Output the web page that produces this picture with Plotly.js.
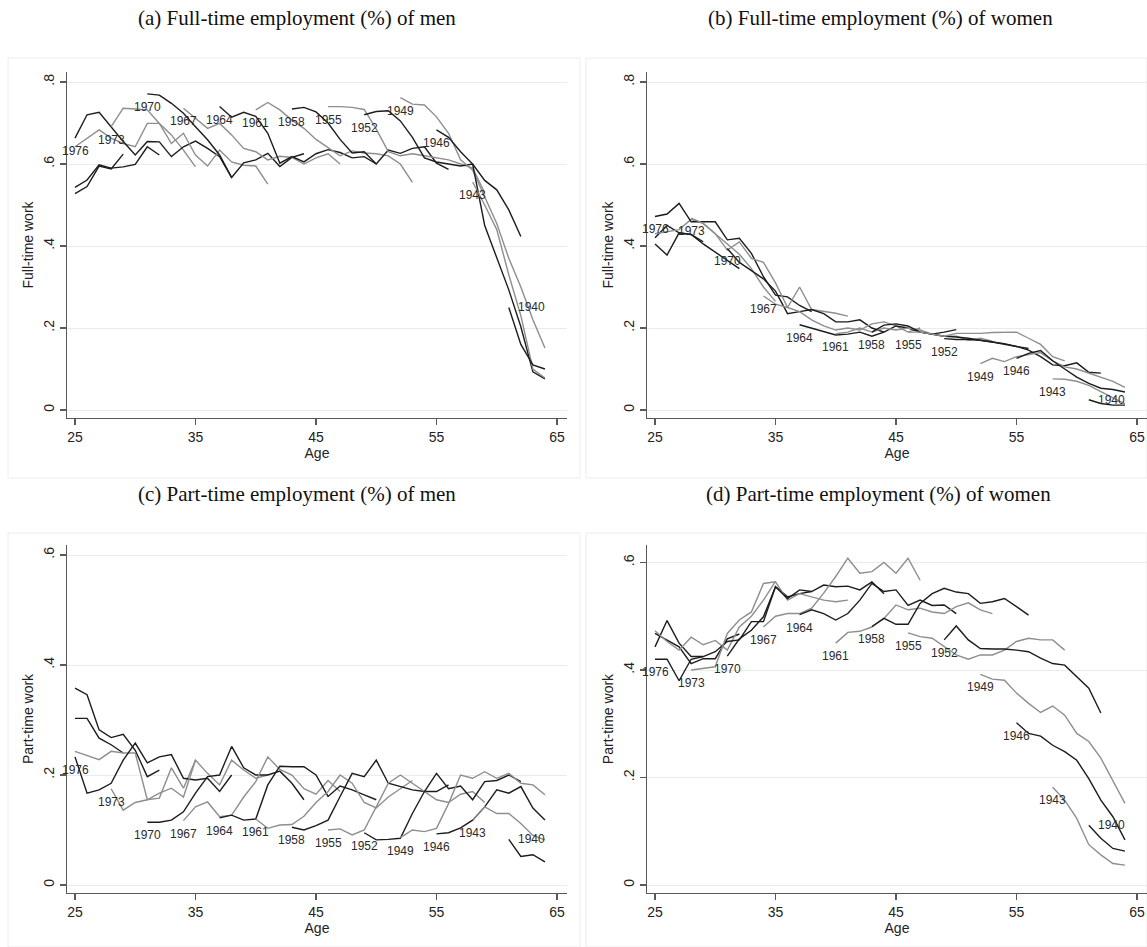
<!DOCTYPE html>
<html>
<head>
<meta charset="utf-8">
<script src="https://cdn.plot.ly/plotly-3.0.1.min.js"></script>
<style>
html,body{margin:0;padding:0;background:#fff;}
#chart{width:1147px;height:947px;}
</style>
</head>
<body>
<div id="chart"></div>
<script>
// ---------------- DATA ----------------
// Birth cohorts (3-year groups); first observed age of each cohort
const cohorts   = [1985, 1982, 1979, 1976, 1973, 1970, 1967, 1964, 1961, 1958, 1955, 1952, 1949, 1946, 1943, 1940];
const startAges = [25, 25, 25, 25, 28, 31, 34, 37, 40, 43, 46, 49, 52, 55, 58, 61];
const lineShade = ['black','black','gray','black','gray','black','gray','black','gray','black','gray','black','gray','black','gray','black'];
const labelled  = [false, false, false, true, true, true, true, true, true, true, true, true, true, true, true, true];

const xTickVals = [25, 35, 45, 55, 65];
const xTickText = ['25', '35', '45', '55', '65'];
const yTickValsTop = [0, 0.2, 0.4, 0.6, 0.8];
const yTickTextTop = ['0', '.2', '.4', '.6', '.8'];
const yTickValsBot = [0, 0.2, 0.4, 0.6];
const yTickTextBot = ['0', '.2', '.4', '.6'];

// (a) Full-time employment of men
const ftMen = [
  [0.528, 0.545, 0.595, 0.588, 0.624],
  [0.543, 0.561, 0.598, 0.590, 0.593, 0.599, 0.642, 0.622],
  [0.642, 0.663, 0.683, 0.663, 0.650, 0.642, 0.699, 0.699, 0.671, 0.634, 0.593],
  [0.663, 0.720, 0.726, 0.690, 0.655, 0.622, 0.655, 0.654, 0.618, 0.642, 0.656, 0.638, 0.618, 0.567],
  [0.691, 0.736, 0.734, 0.732, 0.699, 0.650, 0.675, 0.622, 0.595, 0.634, 0.605, 0.597, 0.595, 0.551],
  [0.771, 0.768, 0.748, 0.724, 0.691, 0.659, 0.622, 0.567, 0.603, 0.610, 0.626, 0.594, 0.616, 0.625],
  [0.736, 0.711, 0.687, 0.699, 0.671, 0.638, 0.630, 0.610, 0.619, 0.616, 0.600, 0.615, 0.625, 0.600],
  [0.740, 0.714, 0.726, 0.716, 0.675, 0.602, 0.618, 0.605, 0.625, 0.635, 0.628, 0.615, 0.618, 0.600],
  [0.732, 0.750, 0.732, 0.707, 0.687, 0.660, 0.640, 0.620, 0.632, 0.627, 0.625, 0.620, 0.600, 0.555],
  [0.734, 0.738, 0.727, 0.700, 0.660, 0.627, 0.630, 0.600, 0.634, 0.626, 0.638, 0.642, 0.602, 0.587],
  [0.740, 0.740, 0.738, 0.733, 0.685, 0.630, 0.620, 0.625, 0.620, 0.615, 0.610, 0.600, 0.590, 0.530],
  [0.720, 0.728, 0.730, 0.705, 0.665, 0.615, 0.605, 0.600, 0.595, 0.600, 0.560, 0.537, 0.488, 0.423],
  [0.762, 0.746, 0.744, 0.715, 0.675, 0.610, 0.585, 0.520, 0.455, 0.370, 0.300, 0.220, 0.151],
  [0.683, 0.665, 0.630, 0.600, 0.450, 0.374, 0.293, 0.203, 0.093, 0.076],
  [0.556, 0.500, 0.440, 0.330, 0.230, 0.100, 0.078],
  [0.250, 0.160, 0.110, 0.100]
];

// (b) Full-time employment of women
const ftWomen = [
  [0.405, 0.378, 0.432, 0.428, 0.410],
  [0.420, 0.450, 0.432, 0.428, 0.405, 0.385, 0.365, 0.345],
  [0.430, 0.435, 0.440, 0.465, 0.455, 0.430, 0.405, 0.380, 0.345, 0.300, 0.265],
  [0.472, 0.478, 0.504, 0.459, 0.459, 0.459, 0.415, 0.419, 0.382, 0.325, 0.280, 0.276, 0.255, 0.240],
  [0.468, 0.455, 0.430, 0.390, 0.410, 0.370, 0.360, 0.310, 0.250, 0.300, 0.245, 0.240, 0.236, 0.229],
  [0.394, 0.360, 0.340, 0.320, 0.290, 0.235, 0.240, 0.245, 0.235, 0.215, 0.215, 0.220, 0.200, 0.190],
  [0.278, 0.258, 0.250, 0.240, 0.220, 0.205, 0.195, 0.200, 0.195, 0.210, 0.215, 0.205, 0.190, 0.200],
  [0.208, 0.200, 0.192, 0.183, 0.185, 0.190, 0.180, 0.190, 0.205, 0.200, 0.190, 0.185, 0.190, 0.196],
  [0.186, 0.190, 0.200, 0.190, 0.200, 0.195, 0.200, 0.195, 0.185, 0.180, 0.180, 0.170, 0.175, 0.168],
  [0.190, 0.207, 0.210, 0.205, 0.190, 0.185, 0.180, 0.178, 0.175, 0.170, 0.166, 0.160, 0.155, 0.150],
  [0.190, 0.190, 0.185, 0.180, 0.187, 0.187, 0.187, 0.189, 0.190, 0.190, 0.175, 0.160, 0.130, 0.120],
  [0.174, 0.172, 0.172, 0.170, 0.166, 0.162, 0.155, 0.146, 0.130, 0.110, 0.108, 0.115, 0.092, 0.090],
  [0.113, 0.126, 0.118, 0.130, 0.135, 0.140, 0.120, 0.105, 0.100, 0.090, 0.080, 0.070, 0.055],
  [0.126, 0.138, 0.145, 0.120, 0.100, 0.080, 0.065, 0.053, 0.050, 0.044],
  [0.076, 0.075, 0.070, 0.060, 0.045, 0.030, 0.015],
  [0.025, 0.016, 0.012, 0.012]
];

// (c) Part-time employment of men
const ptMen = [
  [0.303, 0.303, 0.267, 0.255, 0.240],
  [0.358, 0.346, 0.282, 0.268, 0.274, 0.245, 0.197, 0.209],
  [0.243, 0.235, 0.228, 0.243, 0.240, 0.240, 0.155, 0.158, 0.213, 0.176, 0.227],
  [0.233, 0.167, 0.173, 0.185, 0.227, 0.258, 0.222, 0.233, 0.237, 0.194, 0.191, 0.194, 0.170, 0.200],
  [0.175, 0.136, 0.150, 0.155, 0.167, 0.176, 0.160, 0.227, 0.203, 0.182, 0.227, 0.209, 0.194, 0.200],
  [0.114, 0.114, 0.118, 0.133, 0.167, 0.197, 0.200, 0.252, 0.213, 0.200, 0.200, 0.207, 0.185, 0.155],
  [0.117, 0.142, 0.151, 0.124, 0.127, 0.160, 0.188, 0.233, 0.210, 0.200, 0.175, 0.165, 0.190, 0.170],
  [0.122, 0.127, 0.118, 0.120, 0.182, 0.216, 0.215, 0.215, 0.200, 0.161, 0.180, 0.173, 0.164, 0.155],
  [0.120, 0.103, 0.109, 0.110, 0.125, 0.150, 0.170, 0.200, 0.185, 0.150, 0.140, 0.160, 0.175, 0.190],
  [0.105, 0.100, 0.108, 0.118, 0.161, 0.203, 0.197, 0.227, 0.185, 0.179, 0.173, 0.170, 0.170, 0.182],
  [0.100, 0.102, 0.091, 0.100, 0.142, 0.185, 0.200, 0.185, 0.170, 0.155, 0.150, 0.165, 0.170, 0.150],
  [0.095, 0.082, 0.083, 0.085, 0.130, 0.170, 0.203, 0.175, 0.180, 0.155, 0.188, 0.190, 0.200, 0.188],
  [0.086, 0.100, 0.097, 0.103, 0.148, 0.200, 0.194, 0.206, 0.194, 0.203, 0.185, 0.182, 0.164],
  [0.093, 0.095, 0.104, 0.118, 0.142, 0.173, 0.167, 0.179, 0.140, 0.118],
  [0.118, 0.142, 0.130, 0.130, 0.112, 0.090, 0.082],
  [0.083, 0.052, 0.055, 0.042]
];

// (d) Part-time employment of women
const ptWomen = [
  [0.443, 0.492, 0.450, 0.425, 0.425],
  [0.468, 0.456, 0.443, 0.412, 0.421, 0.421, 0.458, 0.467],
  [0.473, 0.453, 0.437, 0.461, 0.447, 0.455, 0.437, 0.480, 0.500, 0.530, 0.565],
  [0.420, 0.420, 0.380, 0.420, 0.425, 0.434, 0.453, 0.456, 0.490, 0.490, 0.555, 0.536, 0.542, 0.546],
  [0.400, 0.403, 0.406, 0.468, 0.493, 0.508, 0.561, 0.564, 0.530, 0.542, 0.536, 0.530, 0.527, 0.530],
  [0.426, 0.458, 0.474, 0.499, 0.555, 0.533, 0.549, 0.546, 0.558, 0.555, 0.556, 0.549, 0.564, 0.542],
  [0.480, 0.500, 0.505, 0.505, 0.515, 0.543, 0.574, 0.608, 0.580, 0.583, 0.600, 0.580, 0.608, 0.567],
  [0.503, 0.512, 0.505, 0.493, 0.505, 0.530, 0.561, 0.546, 0.549, 0.520, 0.530, 0.520, 0.521, 0.505],
  [0.450, 0.470, 0.472, 0.480, 0.496, 0.521, 0.512, 0.515, 0.508, 0.505, 0.518, 0.525, 0.512, 0.505],
  [0.481, 0.496, 0.485, 0.485, 0.524, 0.542, 0.552, 0.545, 0.542, 0.524, 0.527, 0.533, 0.518, 0.502],
  [0.469, 0.462, 0.459, 0.443, 0.428, 0.420, 0.428, 0.428, 0.437, 0.453, 0.459, 0.456, 0.456, 0.437],
  [0.456, 0.482, 0.456, 0.440, 0.439, 0.439, 0.437, 0.434, 0.422, 0.412, 0.409, 0.387, 0.366, 0.320],
  [0.392, 0.383, 0.381, 0.357, 0.338, 0.321, 0.333, 0.316, 0.282, 0.267, 0.236, 0.195, 0.152],
  [0.302, 0.282, 0.277, 0.260, 0.248, 0.232, 0.198, 0.158, 0.127, 0.084],
  [0.182, 0.158, 0.124, 0.075, 0.056, 0.040, 0.037],
  [0.111, 0.087, 0.068, 0.063]
];

const panelTitles = [
  '(a) Full-time employment (%) of men',
  '(b) Full-time employment (%) of women',
  '(c) Part-time employment (%) of men',
  '(d) Part-time employment (%) of women'
];
const yTitles = ['Full-time work', 'Full-time work', 'Part-time work', 'Part-time work'];
const xTitle = 'Age';

// ---------------- LAYOUT / STYLE ----------------
const W = 1147, H = 947;
const fx = p => p / W;
const fy = p => 1 - p / H;
const COLORS = {black: '#1c1c1c', gray: '#8e8e8e'};
const SANS = 'Liberation Sans, Arial, sans-serif';
const LABEL_FONT = {family: SANS, size: 12, color: '#2a2a2a'};
const TICK_FONT = {family: SANS, size: 14, color: '#222'};

// pixel geometry of each plot region
const panels = [
  {data: ftMen,   xpx: [67, 567],   ypx: [418, 72],  x25: 75,  y0: 410, ys: 410,   yv: yTickValsTop, yt: yTickTextTop},
  {data: ftWomen, xpx: [647, 1147], ypx: [418, 72],  x25: 655, y0: 410, ys: 410,   yv: yTickValsTop, yt: yTickTextTop},
  {data: ptMen,   xpx: [67, 567],   ypx: [893, 545], x25: 75,  y0: 885, ys: 550,   yv: yTickValsBot, yt: yTickTextBot},
  {data: ptWomen, xpx: [647, 1147], ypx: [893, 545], x25: 655, y0: 885, ys: 537.5, yv: yTickValsBot, yt: yTickTextBot}
];
const PX_PER_YEAR = 12.05;
const titlePos = [[297, 18], [880, 18], [297, 494], [878, 494]];
const frames = [[8, 58, 580, 478], [586, 58, 1147, 478], [8, 533, 580, 947], [586, 533, 1147, 947]];

const traces = [];
const annotations = [];
const shapes = [];
const layout = {
  width: W, height: H,
  margin: {l: 0, r: 0, t: 0, b: 0},
  paper_bgcolor: '#fff', plot_bgcolor: '#fff',
  showlegend: false,
  font: {family: SANS, size: 14, color: '#222'}
};

panels.forEach((p, i) => {
  const n = i === 0 ? '' : String(i + 1);
  const xr = [25 + (p.xpx[0] - p.x25) / PX_PER_YEAR, 25 + (p.xpx[1] - p.x25) / PX_PER_YEAR];
  const yr = [(p.y0 - p.ypx[0]) / p.ys, (p.y0 - p.ypx[1]) / p.ys];
  layout['xaxis' + n] = {
    domain: [fx(p.xpx[0]), fx(p.xpx[1])], range: xr, anchor: 'y' + n,
    showline: true, linecolor: '#5a5a5a', linewidth: 1.3,
    ticks: 'outside', ticklen: 6, tickcolor: '#5a5a5a', tickwidth: 1.2,
    tickvals: xTickVals, ticktext: xTickText, tickfont: TICK_FONT,
    showgrid: false, zeroline: false, fixedrange: true,
    title: {text: xTitle, font: {family: SANS, size: 14, color: '#222'}, standoff: 0}
  };
  layout['yaxis' + n] = {
    domain: [fy(p.ypx[0]), fy(p.ypx[1])], range: yr, anchor: 'x' + n,
    showline: true, linecolor: '#5a5a5a', linewidth: 1.3,
    ticks: 'outside', ticklen: 6, tickcolor: '#5a5a5a', tickwidth: 1.2,
    tickvals: p.yv, ticktext: p.yt, tickangle: -90, tickfont: TICK_FONT,
    showgrid: true, gridcolor: '#e4eef0', gridwidth: 1, zeroline: false, fixedrange: true,
    title: {text: yTitles[i], font: {family: SANS, size: 14, color: '#222'}, standoff: 4}
  };

  p.data.forEach((vals, k) => {
    const ages = vals.map((_, j) => startAges[k] + j);
    traces.push({
      x: ages, y: vals, xaxis: 'x' + n, yaxis: 'y' + n,
      type: 'scatter', mode: 'lines', hoverinfo: 'skip', cliponaxis: true,
      line: {color: COLORS[lineShade[k]], width: 1.4}
    });
    if (labelled[k]) {
      const last = cohorts[k] === 1940;
      annotations.push({
        x: ages[0], y: vals[0], xref: 'x' + n, yref: 'y' + n,
        text: String(cohorts[k]), showarrow: false, font: LABEL_FONT,
        xanchor: last ? 'left' : 'center', yanchor: 'middle',
        xshift: last ? 7 : 0, yshift: last ? 0 : -13
      });
    }
  });

  annotations.push({
    x: fx(titlePos[i][0]), y: fy(titlePos[i][1]), xref: 'paper', yref: 'paper',
    text: panelTitles[i], showarrow: false, xanchor: 'center', yanchor: 'middle',
    font: {family: 'Liberation Serif, Times New Roman, serif', size: 21, color: '#111'}
  });
  const f = frames[i];
  shapes.push({type: 'rect', xref: 'paper', yref: 'paper',
    x0: fx(f[0]), x1: fx(f[2]), y0: fy(f[3]), y1: fy(f[1]),
    line: {color: '#ececec', width: 1}, fillcolor: 'rgba(0,0,0,0)', layer: 'below'});
});

layout.annotations = annotations;
layout.shapes = shapes;

Plotly.newPlot('chart', traces, layout, {staticPlot: true, displayModeBar: false});
</script>
</body>
</html>
